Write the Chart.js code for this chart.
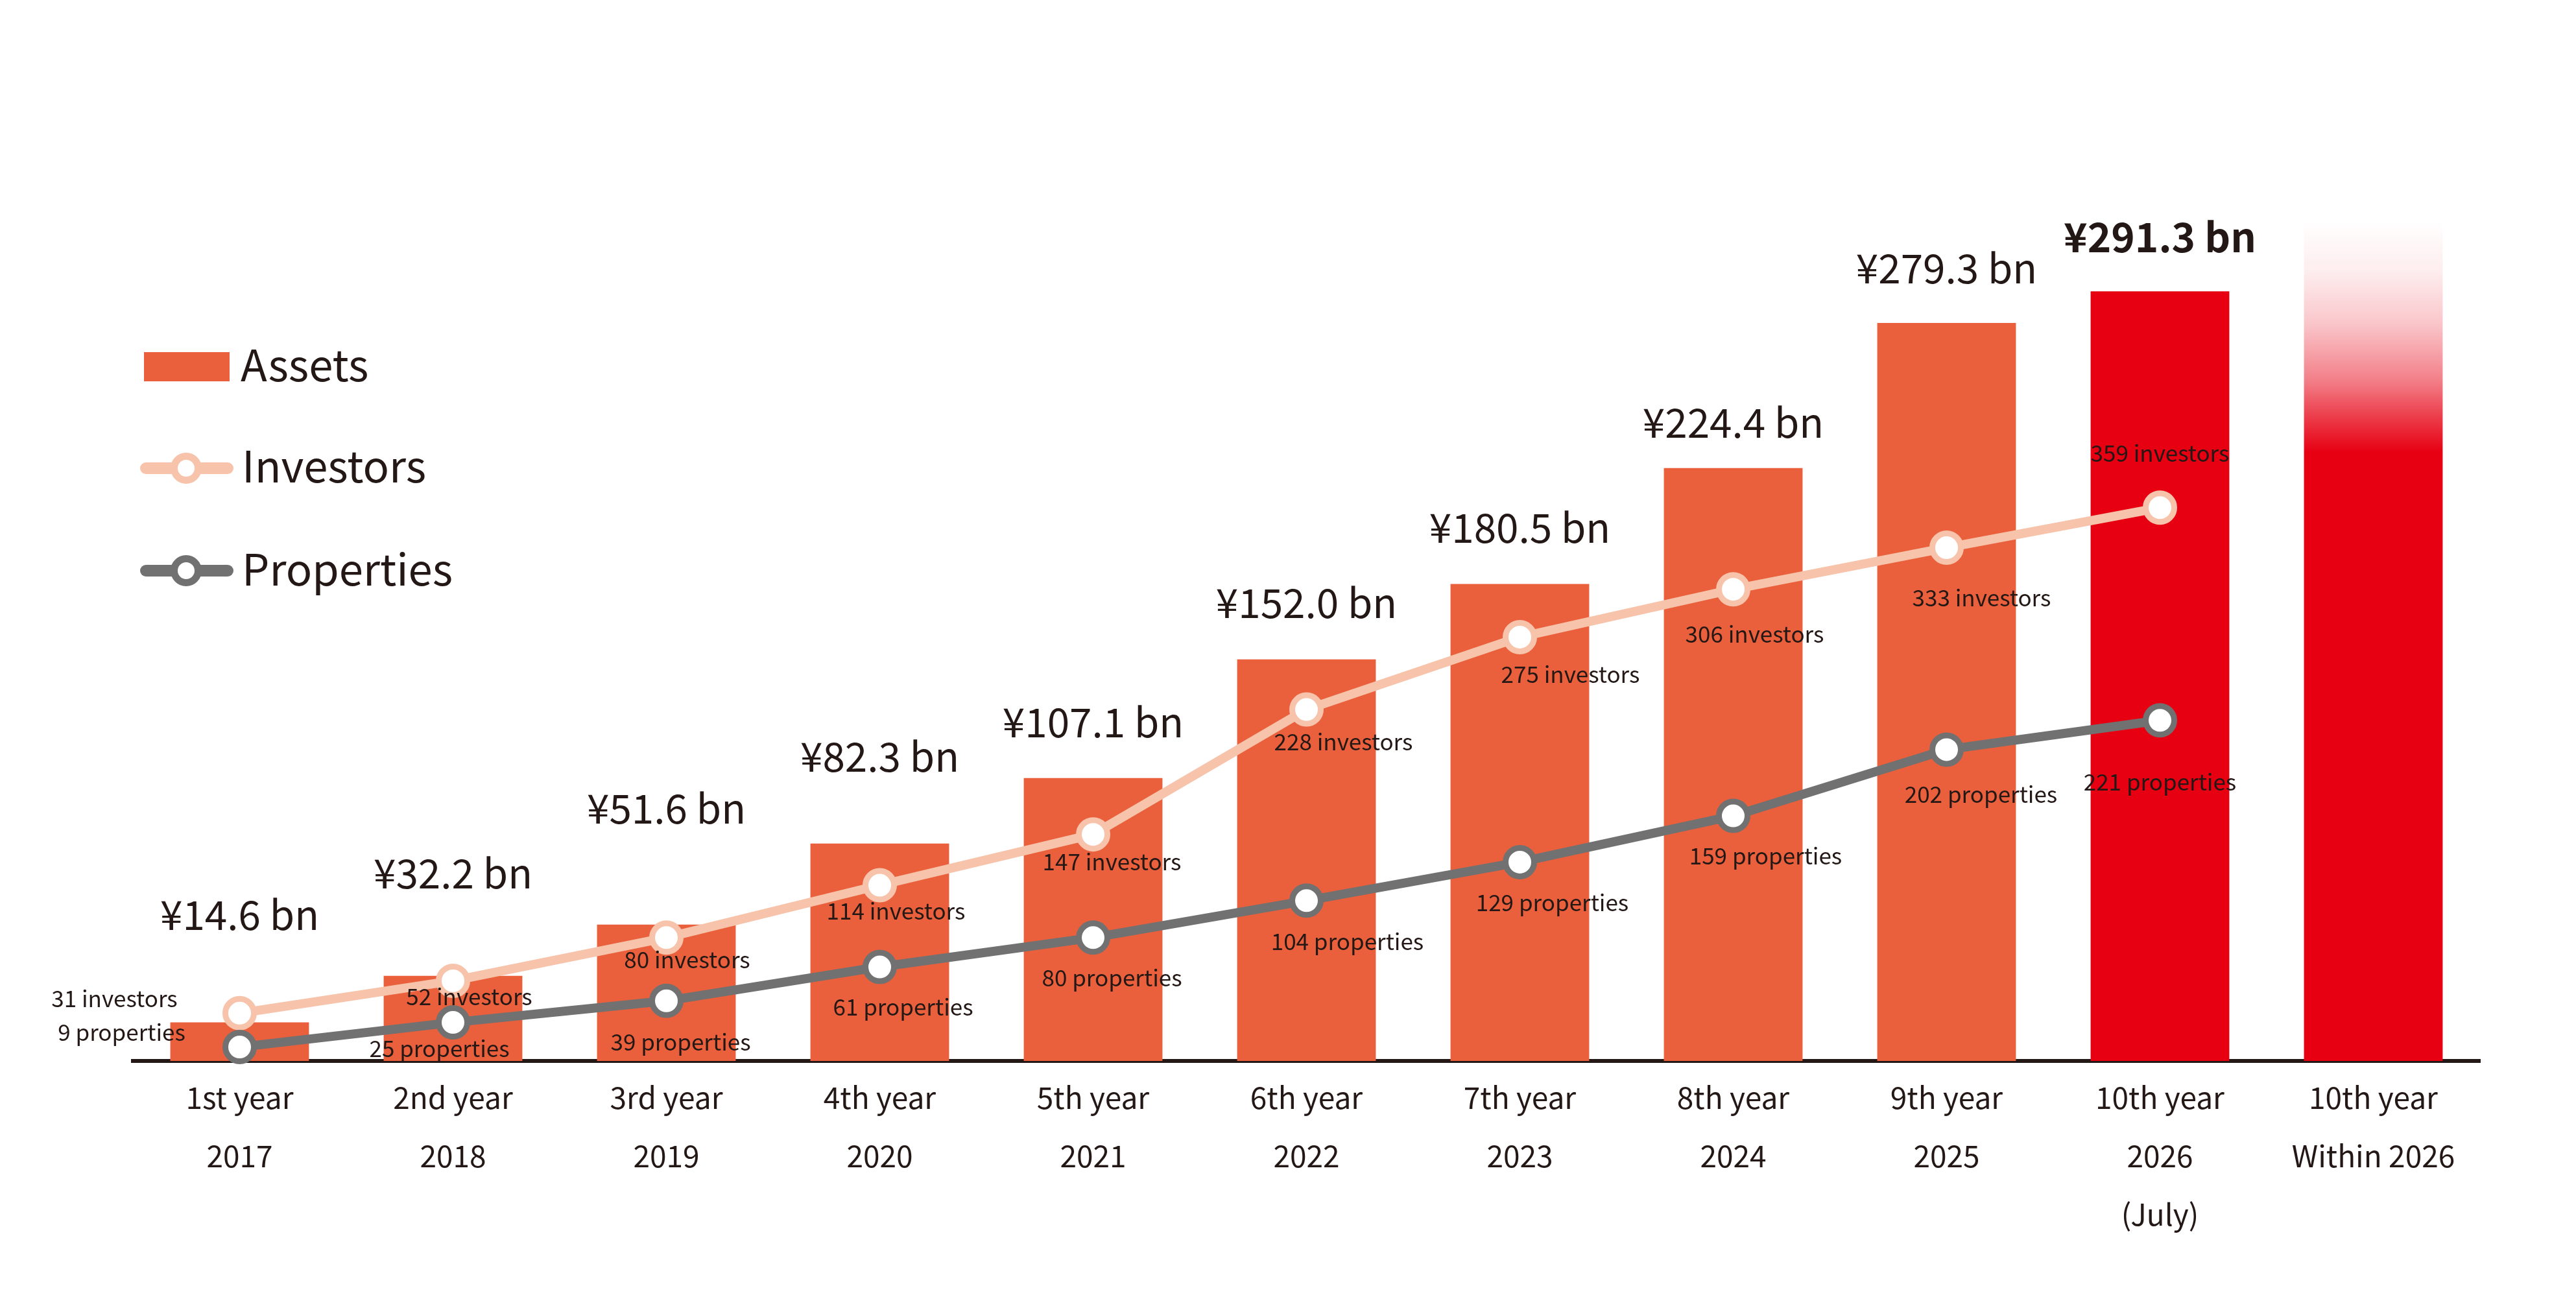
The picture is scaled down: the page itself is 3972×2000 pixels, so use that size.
<!DOCTYPE html>
<html>
<head>
<meta charset="utf-8">
<title>Assets, investors and properties</title>
<script src="https://cdn.jsdelivr.net/npm/chart.js@4.4.1/dist/chart.umd.min.js"></script>
<style>
  html, body { margin: 0; padding: 0; background: #fff; }
  canvas { display: block; }
</style>
</head>
<body>
<canvas id="myChart" width="3972" height="2000"></canvas>
<script>
// ---- data ----
var categories = [
    ['1st year', '2017'], ['2nd year', '2018'], ['3rd year', '2019'], ['4th year', '2020'],
    ['5th year', '2021'], ['6th year', '2022'], ['7th year', '2023'], ['8th year', '2024'],
    ['9th year', '2025'], ['10th year', '2026', '(July)'], ['10th year', 'Within 2026']
];
var assets = [14.6, 32.2, 51.6, 82.3, 107.1, 152.0, 180.5, 224.4, 279.3, 291.3, 318];
var assetLabels = ['¥14.6 bn', '¥32.2 bn', '¥51.6 bn', '¥82.3 bn', '¥107.1 bn', '¥152.0 bn',
    '¥180.5 bn', '¥224.4 bn', '¥279.3 bn', '¥291.3 bn', null];
var investors = [31, 52, 80, 114, 147, 228, 275, 306, 333, 359, null];
var properties = [9, 25, 39, 61, 80, 104, 129, 159, 202, 221, null];

// ---- styling ----
var FONT = "'Noto Sans CJK JP', 'Noto Sans', sans-serif";
var TEXT = '#231815';
var ORANGE = '#EA603C';
var RED = '#E60012';
var PEACH = '#F7C4AB';
var GREY = '#727171';

// label placement (px) relative to the bar top / point
var assetLift = [143, 135, 156, 111, 63, 64, 64, 47, 61, 60];
var investorOffsets = [[-193, -23], [25, 24], [32, 34], [25, 40], [29, 42], [57, 50], [78, 57], [33, 69], [54, 77], [0, -84]];
var propertyOffsets = [[-182, -23], [-21, 40], [22, 63], [36, 62], [29, 62], [63, 63], [50, 62], [50, 62], [53, 69], [0, 95]];

function barColor(c) {
    if (c.dataIndex < 9) return ORANGE;
    if (c.dataIndex === 9) return RED;
    var chart = c.chart;
    if (!chart.chartArea) return RED;
    var top = chart.scales.y.getPixelForValue(assets[c.dataIndex]);
    var g = chart.ctx.createLinearGradient(0, top, 0, top + 357);
    g.addColorStop(0, 'rgba(230,0,18,0)');
    g.addColorStop(0.22, 'rgba(230,0,18,0.07)');
    g.addColorStop(0.44, 'rgba(230,0,18,0.22)');
    g.addColorStop(0.69, 'rgba(230,0,18,0.5)');
    g.addColorStop(0.84, 'rgba(230,0,18,0.75)');
    g.addColorStop(1, 'rgba(230,0,18,1)');
    return g;
}

var labelPlugin = {
    id: 'valueLabels',
    afterDatasetsDraw: function (chart) {
        var ctx = chart.ctx;
        ctx.save();
        ctx.fillStyle = TEXT;
        ctx.textAlign = 'center';

        // asset values above bars
        ctx.textBaseline = 'alphabetic';
        chart.getDatasetMeta(0).data.forEach(function (bar, i) {
            if (!assetLabels[i]) return;
            ctx.font = (i === 9 ? 'bold ' : '') + '62px ' + FONT;
            ctx.fillText(assetLabels[i], bar.x, bar.y - assetLift[i]);
        });

        // investors / properties counts
        ctx.textBaseline = 'middle';
        ctx.font = '35px ' + FONT;
        chart.getDatasetMeta(1).data.forEach(function (pt, i) {
            if (investors[i] == null) return;
            ctx.fillText(investors[i] + ' investors', pt.x + investorOffsets[i][0], pt.y + investorOffsets[i][1]);
        });
        chart.getDatasetMeta(2).data.forEach(function (pt, i) {
            if (properties[i] == null) return;
            ctx.fillText(properties[i] + ' properties', pt.x + propertyOffsets[i][0], pt.y + propertyOffsets[i][1]);
        });
        ctx.restore();
    }
};

var legendPlugin = {
    id: 'sideLegend',
    afterDraw: function (chart) {
        var ctx = chart.ctx;
        var ds = chart.data.datasets;
        ctx.save();
        // Assets swatch
        ctx.fillStyle = ORANGE;
        ctx.fillRect(222, 543, 132, 45);
        // line swatches
        [[ds[1].borderColor, 722], [ds[2].borderColor, 880]].forEach(function (it) {
            ctx.strokeStyle = it[0];
            ctx.lineCap = 'round';
            ctx.lineWidth = 18;
            ctx.beginPath();
            ctx.moveTo(225, it[1]);
            ctx.lineTo(351, it[1]);
            ctx.stroke();
            ctx.beginPath();
            ctx.arc(287, it[1], 18.5, 0, Math.PI * 2);
            ctx.fillStyle = '#fff';
            ctx.fill();
            ctx.lineWidth = 11;
            ctx.stroke();
        });
        ctx.fillStyle = TEXT;
        ctx.font = '67px ' + FONT;
        ctx.textAlign = 'left';
        ctx.textBaseline = 'alphabetic';
        ctx.fillText(ds[0].label, 371, 588);
        ctx.fillText(ds[1].label, 373, 744);
        ctx.fillText(ds[2].label, 373, 903);
        ctx.restore();
    }
};

var ctx = document.getElementById('myChart').getContext('2d');
var chart = new Chart(ctx, {
    type: 'bar',
    data: {
        labels: categories,
        datasets: [{
            type: 'bar',
            label: 'Assets',
            data: assets,
            yAxisID: 'y',
            backgroundColor: barColor,
            barPercentage: 0.65,
            categoryPercentage: 1,
            order: 3
        }, {
            type: 'line',
            label: 'Investors',
            data: investors,
            yAxisID: 'y2',
            borderColor: PEACH,
            borderWidth: 14,
            pointRadius: 22,
            pointBorderWidth: 9,
            pointBackgroundColor: '#fff',
            pointBorderColor: PEACH,
            tension: 0,
            clip: false,
            order: 2
        }, {
            type: 'line',
            label: 'Properties',
            data: properties,
            yAxisID: 'y2',
            borderColor: GREY,
            borderWidth: 14,
            pointRadius: 22,
            pointBorderWidth: 9,
            pointBackgroundColor: '#fff',
            pointBorderColor: GREY,
            tension: 0,
            clip: false,
            order: 1
        }]
    },
    options: {
        responsive: false,
        devicePixelRatio: 1,
        animation: false,
        layout: { padding: { left: 205, right: 148, top: 210, bottom: 70 } },
        plugins: {
            legend: { display: false },
            tooltip: { enabled: false }
        },
        scales: {
            x: {
                grid: { display: false, drawTicks: false },
                border: { display: true, color: TEXT, width: 6 },
                ticks: {
                    color: TEXT,
                    font: { family: FONT, size: 46, lineHeight: '90px' },
                    padding: 12,
                    autoSkip: false,
                    maxRotation: 0
                }
            },
            y: { display: false, min: 0, max: 350 },
            y2: { display: false, min: 0, max: 600 }
        }
    },
    plugins: [labelPlugin, legendPlugin]
});
</script>
</body>
</html>
